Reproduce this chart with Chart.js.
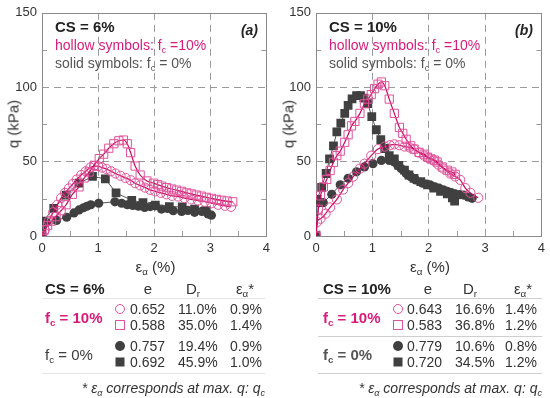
<!DOCTYPE html>
<html><head><meta charset="utf-8">
<script src="https://cdn.jsdelivr.net/npm/chart.js@4"></script>
<style>
body{margin:0;background:#fff;}
#wrap{position:relative;width:550px;height:398px;font-family:"Liberation Sans",Arial,sans-serif;color:#333;overflow:hidden;background:#fff}
canvas{position:absolute;top:0}
.t{position:absolute;white-space:nowrap;line-height:1}
.t sub{font-size:65%;vertical-align:baseline;position:relative;top:0.32em}
.ln{position:absolute;height:1px}
.sym{position:absolute;box-sizing:border-box;width:10px;height:10px;transform:translate(-50%,-50%)}
</style></head><body><div id="wrap">
<canvas id="ca" width="275" height="275" style="left:0"></canvas>
<canvas id="cb" width="275" height="275" style="left:275px"></canvas>
</div>
<script>
// ---------- data ----------
const xTicks = [0, 1, 2, 3, 4];
const yTicks = [0, 50, 100, 150];

// Panel (a) CS = 6%
const aHollowSqX = [0, 0.04, 0.1, 0.17, 0.25, 0.34, 0.43, 0.54, 0.66, 0.75, 0.84, 0.93, 1.02, 1.1, 1.19, 1.28, 1.37, 1.45, 1.52, 1.58, 1.66, 1.75, 1.87, 1.99, 2.06, 2.13, 2.22, 2.31, 2.4, 2.49, 2.58, 2.66, 2.75, 2.84, 2.93, 3.02, 3.11, 3.2, 3.3, 3.4];
const aHollowSqY = [0, 4, 7, 10, 13, 17, 21, 28, 33, 39, 43, 47.5, 52, 55, 59, 62, 64, 64.5, 62, 56, 47, 41, 37, 35.5, 34.5, 33.5, 32.5, 31.6, 30.8, 30, 29, 28.3, 27.5, 26.8, 26, 25.3, 24.6, 24, 23.5, 23];
const aHollowCiX = [0, 0.05, 0.12, 0.2, 0.27, 0.34, 0.41, 0.48, 0.55, 0.62, 0.7, 0.78, 0.86, 0.93, 1.0, 1.07, 1.15, 1.23, 1.31, 1.4, 1.49, 1.58, 1.66, 1.75, 1.84, 1.93, 2.02, 2.12, 2.22, 2.32, 2.43, 2.54, 2.66, 2.78, 2.9, 3.02, 3.14, 3.26, 3.37];
const aHollowCiY = [0, 4, 10, 16, 21, 25.5, 29, 32, 35, 38, 41, 43.5, 46, 47, 47, 46, 45, 43.5, 42, 40.5, 39, 37.5, 35.5, 34, 32.5, 31, 30, 29, 28, 27, 26.5, 25.5, 24.6, 23.8, 23, 22, 21, 20.3, 19.6];
const aSolidSqX = [0, 0.02, 0.21, 0.43, 0.66, 0.9, 1.13, 1.32, 1.6, 1.8, 2.02, 2.27, 2.5, 2.72, 2.92];
const aSolidSqY = [0.5, 10, 18.5, 27.5, 35.5, 40, 38.4, 29, 24, 22.4, 20.7, 19.8, 19.5, 18, 17];
const aSolidCiX = [0, 0.08, 0.26, 0.44, 0.57, 0.66, 0.74, 0.8, 0.87, 1.01, 1.3, 1.42, 1.52, 1.62, 1.72, 1.83, 1.93, 2.02, 2.13, 2.24, 2.34, 2.49, 2.6, 2.72, 2.85, 2.96, 3.02];
const aSolidCiY = [5, 9, 10.5, 12.6, 15.5, 17.5, 19, 20, 21, 22, 23, 22, 21, 20.5, 20, 19.2, 19.8, 20.3, 18.1, 18.5, 17, 16.5, 17.2, 15.9, 16.5, 14.8, 14];

// Panel (b) CS = 10%
const bHollowSqX = [0, 0.04, 0.08, 0.13, 0.19, 0.25, 0.31, 0.37, 0.43, 0.51, 0.57, 0.63, 0.69, 0.78, 0.86, 0.92, 0.98, 1.04, 1.1, 1.16, 1.22, 1.3, 1.39, 1.48, 1.54, 1.6, 1.68, 1.74, 1.83, 1.92, 1.98, 2.04, 2.1, 2.15, 2.24, 2.33, 2.41, 2.47];
const bHollowSqY = [0, 18, 27, 33, 38, 44, 49.5, 54, 57, 63, 68, 74, 77, 82.4, 88.9, 92, 95, 99, 102, 103.5, 101, 92, 82.4, 73, 69, 65, 60.6, 58.4, 56.2, 55, 53, 51.8, 51, 49.7, 46.4, 44.2, 43, 41.4];
const bHollowCiX = [0, 0.02, 0.08, 0.17, 0.25, 0.37, 0.48, 0.57, 0.66, 0.78, 0.86, 0.98, 1.1, 1.22, 1.31, 1.39, 1.48, 1.57, 1.66, 1.74, 1.83, 1.92, 2.0, 2.09, 2.17, 2.26, 2.38, 2.47, 2.56, 2.65, 2.74, 2.88];
const bHollowCiY = [0, 9.4, 11.6, 15, 19.2, 24.6, 31.2, 35.5, 39.9, 45.3, 48.6, 54, 58.4, 60.1, 61, 61.6, 61, 60.1, 59.5, 58.4, 56, 54, 52.5, 50.8, 48, 45.3, 42, 40, 37.7, 32.2, 29, 25.7];
const bSolidSqX = [0, 0.02, 0.1, 0.18, 0.24, 0.31, 0.37, 0.44, 0.51, 0.57, 0.64, 0.72, 0.79, 0.85, 0.92, 0.99, 1.07, 1.15, 1.22, 1.3, 1.39, 1.47, 1.57, 1.65, 1.74, 1.86, 1.98, 2.09, 2.21, 2.33, 2.42, 2.46];
const bSolidSqY = [0.6, 24.6, 32.7, 42, 51.8, 60.6, 70, 75.8, 82.4, 87.8, 92.2, 94.3, 94.3, 92.6, 88.9, 80.2, 71.4, 64.7, 58.8, 54, 51.8, 47.5, 44.2, 41, 38.8, 36.6, 34.4, 32.2, 30, 28.3, 25.7, 23.5];
const bSolidCiX = [0, 0.05, 0.13, 0.28, 0.43, 0.57, 0.72, 0.86, 1.01, 1.16, 1.3, 1.39, 1.45, 1.51, 1.6, 1.68, 1.77, 1.89, 1.97, 2.04, 2.11, 2.18, 2.26, 2.33, 2.4, 2.47, 2.55, 2.62, 2.7, 2.77];
const bSolidCiY = [0, 22.4, 22.4, 28, 34.4, 38.8, 43.1, 46.4, 48.6, 50.8, 50.8, 49.7, 47.5, 45.3, 42, 39.9, 37.7, 35.5, 34.8, 34, 33, 32.2, 31, 30, 29.2, 28.3, 27.8, 27.5, 26.2, 25.3];

// table values
const tableA = { title: 'CS = 6%', rows: [
  ['hc', '0.652', '11.0%', '0.9%'], ['hs', '0.588', '35.0%', '1.4%'],
  ['sc', '0.757', '19.4%', '0.9%'], ['ss', '0.692', '45.9%', '1.0%'] ] };
const tableB = { title: 'CS = 10%', rows: [
  ['hc', '0.643', '16.6%', '1.4%'], ['hs', '0.583', '36.8%', '1.2%'],
  ['sc', '0.779', '10.6%', '0.8%'], ['ss', '0.720', '34.5%', '1.2%'] ] };

// ---------- styles ----------
const MAG_LINE = '#c8085f';
const PINK = '#e0529a';
const MAG_TEXT = '#d81b7a';
const DARK = '#404040';
const GRID = '#9a9a9a';

function pts(xs, ys) { return xs.map((x, i) => ({ x: x, y: ys[i] })); }
function hollow(xs, ys, style, r) {
  return { data: pts(xs, ys), showLine: true, borderColor: MAG_LINE, borderWidth: 1.2,
    cubicInterpolationMode: 'monotone', pointStyle: style, pointRadius: r,
    pointBorderColor: PINK, pointBackgroundColor: 'rgba(255,255,255,0)', pointBorderWidth: 1, order: 0 };
}
function solid(xs, ys, style, r) {
  return { data: pts(xs, ys), showLine: true, borderColor: '#555', borderWidth: 1,
    tension: 0, pointStyle: style, pointRadius: r,
    pointBorderColor: DARK, pointBackgroundColor: DARK, pointBorderWidth: 0, order: 2 };
}

const framePlugin = {
  id: 'frame',
  beforeDatasetsDraw(chart) {
    const { ctx, chartArea: a, scales } = chart;
    ctx.save();
    ctx.strokeStyle = GRID; ctx.lineWidth = 1; ctx.setLineDash([]);
    [0.5, 1.5, 2.5, 3.5].forEach(v => {
      const px = Math.round(scales.x.getPixelForValue(v)) + 0.5;
      ctx.beginPath(); ctx.moveTo(px, a.bottom); ctx.lineTo(px, a.bottom - 5); ctx.stroke();
    });
    [25, 75, 125].forEach(v => {
      const py = Math.round(scales.y.getPixelForValue(v)) + 0.5;
      ctx.beginPath(); ctx.moveTo(a.left, py); ctx.lineTo(a.left + 5, py); ctx.stroke();
      ctx.beginPath(); ctx.moveTo(a.right, py); ctx.lineTo(a.right - 5, py); ctx.stroke();
    });
    ctx.strokeStyle = '#8a8a8a';
    ctx.strokeRect(Math.round(a.left) + 0.5, Math.round(a.top) + 0.5, Math.round(a.right - a.left), Math.round(a.bottom - a.top));
    ctx.restore();
  }
};

function makeChart(id, sets, yWidth) {
  const tickFont = { family: '"Liberation Sans", Arial, sans-serif', size: 13 };
  return new Chart(document.getElementById(id), {
    type: 'scatter',
    data: { datasets: sets },
    options: {
      responsive: false, animation: false, devicePixelRatio: 1,
      layout: { padding: { top: 8, right: 6, left: 0, bottom: 0 } },
      plugins: { legend: { display: false }, tooltip: { enabled: false } },
      scales: {
        x: { type: 'linear', min: xTicks[0], max: xTicks[xTicks.length - 1],
          afterFit: s => { s.height = 39; },
          afterBuildTicks: s => { s.ticks = xTicks.map(v => ({ value: v })); },
          ticks: { color: '#333', font: tickFont, padding: 5 },
          grid: { drawTicks: false, lineWidth: 1,
            color: c => (c.tick && (c.tick.value === xTicks[0] || c.tick.value === xTicks[xTicks.length - 1])) ? 'rgba(0,0,0,0)' : GRID },
          border: { display: false, dash: [7, 5] } },
        y: { type: 'linear', min: yTicks[0], max: yTicks[yTicks.length - 1],
          afterFit: s => { s.width = yWidth; },
          afterBuildTicks: s => { s.ticks = yTicks.map(v => ({ value: v })); },
          ticks: { color: '#333', font: tickFont, padding: 5 },
          grid: { drawTicks: false, lineWidth: 1,
            color: c => (c.tick && (c.tick.value === yTicks[0] || c.tick.value === yTicks[yTicks.length - 1])) ? 'rgba(0,0,0,0)' : GRID },
          border: { display: false, dash: [7, 5] } }
      }
    },
    plugins: [framePlugin]
  });
}

makeChart('ca', [
  hollow(aHollowSqX, aHollowSqY, 'rect', 5.8),
  hollow(aHollowCiX, aHollowCiY, 'circle', 4.6),
  solid(aSolidSqX, aSolidSqY, 'rect', 6.2),
  solid(aSolidCiX, aSolidCiY, 'circle', 4.6)
], 42);
makeChart('cb', [
  hollow(bHollowSqX, bHollowSqY, 'rect', 5.8),
  hollow(bHollowCiX, bHollowCiY, 'circle', 4.6),
  solid(bSolidSqX, bSolidSqY, 'rect', 6.2),
  solid(bSolidCiX, bSolidCiY, 'circle', 4.6)
], 41);

// ---------- text overlays ----------
const wrap = document.getElementById('wrap');
function put(html, x, y, o) {
  o = o || {};
  const d = document.createElement('div');
  d.className = 't';
  d.innerHTML = html;
  d.style.left = x + 'px'; d.style.top = y + 'px';
  d.style.fontSize = (o.size || 14) + 'px';
  if (o.color) d.style.color = o.color;
  if (o.bold) d.style.fontWeight = 'bold';
  if (o.italic) d.style.fontStyle = 'italic';
  const tx = o.align === 'center' ? '-50%' : o.align === 'right' ? '-100%' : '0';
  d.style.transform = (o.rot ? 'translate(-50%,-50%) rotate(-90deg)' : 'translate(' + tx + ',-50%)');
  wrap.appendChild(d);
}
function hline(x1, x2, y, color) {
  const d = document.createElement('div');
  d.className = 'ln'; d.style.left = x1 + 'px'; d.style.width = (x2 - x1) + 'px';
  d.style.top = y + 'px'; d.style.background = color; wrap.appendChild(d);
}
function sym(kind, x, y) {
  const d = document.createElement('div');
  d.className = 'sym'; d.style.left = x + 'px'; d.style.top = y + 'px';
  if (kind === 'hc') { d.style.border = '1px solid ' + PINK; d.style.borderRadius = '50%'; }
  if (kind === 'hs') { d.style.border = '1px solid ' + PINK; }
  if (kind === 'sc') { d.style.background = DARK; d.style.borderRadius = '50%'; }
  if (kind === 'ss') { d.style.background = DARK; d.style.width = '9px'; d.style.height = '9px'; }
  wrap.appendChild(d);
}

function panel(off, label, cs, plotL, tbl, lineL, lineR, cols, midLine, lineColor) {
  const plotR = off + 269;
  // axis titles
  put('q (kPa)', off + 13, 124, { size: 15, rot: true });
  put('ε<sub>α</sub> (%)', (plotL + plotR) / 2, 266, { size: 15, align: 'center' });
  // annotations
  put(cs, plotL + 13, 26, { size: 15, bold: true, color: '#222' });
  put(label, plotR - 11, 30, { size: 14, bold: true, italic: true, align: 'right', color: '#222' });
  put('hollow symbols: f<sub>c</sub> =10%', plotL + 13, 45, { size: 14, color: MAG_TEXT });
  put('solid symbols: f<sub>c</sub> = 0%', plotL + 13, 63, { size: 14, color: '#555' });
  // table
  put(tbl.title, off + cols.title, 288, { size: 15, bold: true, color: '#222' });
  put('e', off + cols.e, 288, { size: 15, align: 'center' });
  put('D<sub>r</sub>', off + cols.dr, 288, { size: 15, align: 'center' });
  put('ε<sub>α</sub>*', off + cols.ea, 288, { size: 15, align: 'center' });
  hline(lineL, lineR, 298, lineColor);
  put('f<sub>c</sub> = 10%', off + cols.title, 317, { size: 15, bold: true, color: MAG_TEXT });
  put('f<sub>c</sub> = 0%', off + cols.title, 354, { size: 15, bold: cols.boldZero, color: cols.boldZero ? '#555' : '#3c3c3c' });
  if (midLine) hline(lineL, lineR, 336, lineColor);
  const rowY = [309, 325, 346, 362];
  tbl.rows.forEach((r, i) => {
    sym(r[0], off + cols.sym, rowY[i]);
    put(r[1], off + cols.v1, rowY[i], { size: 14 });
    put(r[2], off + cols.v2, rowY[i], { size: 14 });
    put(r[3], off + cols.v3, rowY[i], { size: 14 });
  });
  hline(lineL, lineR, 373, lineColor);
  put('* <i>ε<sub>α</sub> corresponds at max. q: q<sub>c</sub></i>', lineR, 388, { size: 14, align: 'right', italic: true });
}

panel(0, '(a)', 'CS = 6%', 42, tableA, 42, 265,
  { title: 45, e: 148, dr: 193, ea: 245, sym: 120, v1: 130, v2: 178, v3: 230, boldZero: false }, false, '#e4e4e4');
panel(275, '(b)', 'CS = 10%', 316, tableB, 318, 542,
  { title: 48, e: 153, dr: 195, ea: 248, sym: 123, v1: 132, v2: 180, v3: 230, boldZero: true }, true, '#cfcfcf');
</script>
</body></html>
